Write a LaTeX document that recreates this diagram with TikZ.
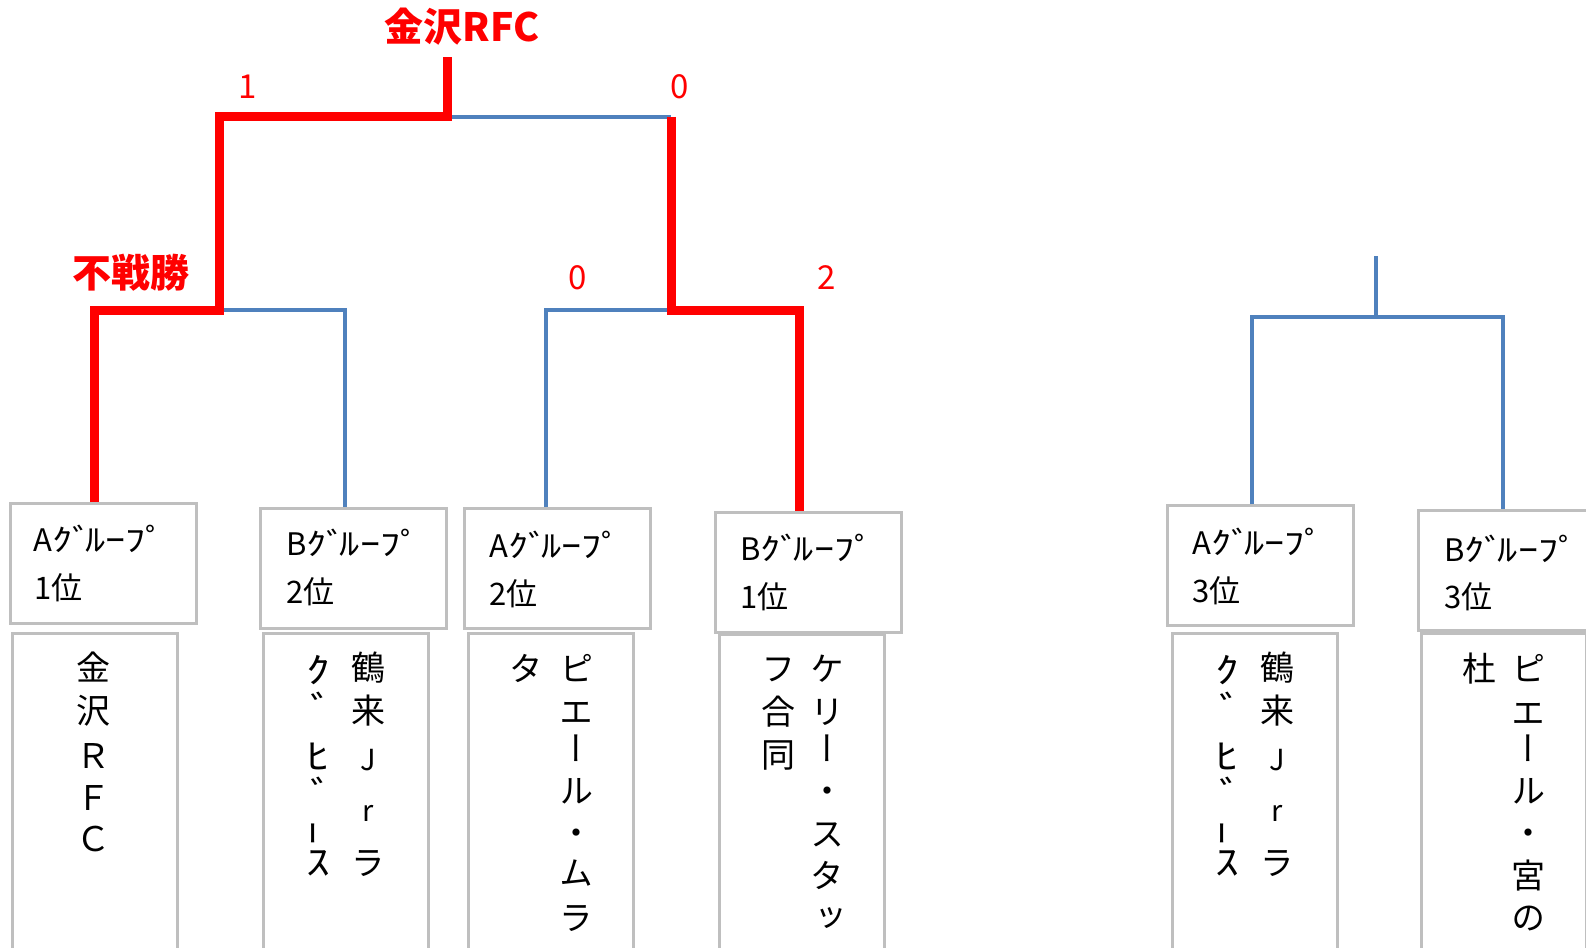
\documentclass[tikz,border=0pt]{standalone}
\usepackage{fontspec}
\usepackage{graphicx}
\setmainfont{Noto Sans CJK JP}
\newfontfamily\vfont[RawFeature=+vert]{Noto Sans CJK JP}
\definecolor{brRed}{HTML}{FF0000}
\definecolor{brBlue}{HTML}{4F81BD}
\definecolor{boxGray}{HTML}{BFBFBF}
\tikzset{
  win/.style={draw=brRed, line width=9pt, line join=miter},
  lose/.style={draw=brBlue, line width=4pt, line join=miter},
  gbox/.style={draw=boxGray, line width=2.5pt, anchor=north west, inner sep=0pt, minimum width=186pt, minimum height=120pt},
  tbox/.style={draw=boxGray, line width=2.5pt, anchor=north west, inner sep=0pt, minimum width=165pt, minimum height=360pt},
  gtext/.style={anchor=base west, inner sep=0pt, font=\fontsize{31}{31}\selectfont},
  vch/.style={inner sep=0pt, text height=30pt, text depth=4pt, font=\vfont\fontsize{34}{34}\selectfont},
  vsm/.style={vch, font=\vfont\fontsize{29}{29}\selectfont},
  score/.style={inner sep=0pt, text=brRed, font=\fontsize{33}{33}\selectfont},
  ttl/.style={inner sep=0pt, text=brRed, font=\bfseries\fontsize{39}{39}\selectfont}
}
\newcommand\vchar[4]{\node[vch] (#1) at (#2,#3) {#4};}
\newcommand\vsmall[4]{\node[vsm] (#1) at (#2,#3) {#4};}
\newcommand\vhalf[4]{\node[vch] (#1) at (#2,#3) {\scalebox{1.4}[1.05]{#4}};}
\newcommand\vrot[4]{\node[vch] (#1) at (#2,#3) {\rotatebox[origin=c]{90}{\scalebox{1.4}[1]{#4}}};}
\newcommand\grp[1]{#1\scalebox{1.3}[1]{ｸﾞ}\kern-7pt\scalebox{1.3}[1]{ﾙｰﾌﾟ}}
\begin{document}
\begin{tikzpicture}[x=1pt,y=-1pt]
\useasboundingbox (0,0) rectangle (1586,947);
\fill[white] (0,0) rectangle (1586,947);
\clip (0,0) rectangle (1586,947);

% group boxes
\node[gbox] (g1) at (9,502) {};
\node[gbox] (g2) at (259,507) {};
\node[gbox] (g3) at (463,507) {};
\node[gbox] (g4) at (714,511) {};
\node[gbox] (g5) at (1166,504) {};
\node[gbox] (g6) at (1417,509) {};

\node[gtext] (g1a) at (33,551) {\grp{A}};
\node[gtext] (g1b) at (34,599) {1位};
\node[gtext] (g2a) at (286,555) {\grp{B}};
\node[gtext] (g2b) at (286,603) {2位};
\node[gtext] (g3a) at (489,557) {\grp{A}};
\node[gtext] (g3b) at (489,605) {2位};
\node[gtext] (g4a) at (740,560) {\grp{B}};
\node[gtext] (g4b) at (740,608) {1位};
\node[gtext] (g5a) at (1192,554) {\grp{A}};
\node[gtext] (g5b) at (1192,602) {3位};
\node[gtext] (g6a) at (1444,561) {\grp{B}};
\node[gtext] (g6b) at (1444,608) {3位};

% team boxes
\node[tbox] (t1) at (11,632) {};
\node[tbox] (t2) at (262,632) {};
\node[tbox] (t3) at (467,632) {};
\node[tbox] (t4) at (718,633) {};
\node[tbox] (t5) at (1171,632) {};
\node[tbox] (t6) at (1420,632) {};

% team 1
\vchar{t1a}{93}{667}{金}
\vchar{t1b}{93}{710}{沢}
\vchar{t1c}{93}{755}{Ｒ}
\vchar{t1d}{93}{797}{Ｆ}
\vchar{t1e}{93}{838}{Ｃ}
% team 2
\vchar{t2a}{368}{667}{鶴}
\vchar{t2b}{368}{710}{来}
\vsmall{t2c}{368}{757}{J}
\vsmall{t2d}{368}{808}{r}
\vchar{t2e}{368}{862}{ラ}
\vhalf{t2f}{318}{670}{ｸ}
\vhalf{t2g}{322}{709}{ﾞ}
\vhalf{t2h}{318}{756}{ﾋ}
\vhalf{t2i}{322}{794}{ﾞ}
\vrot{t2j}{318}{828}{ｰ}
\vhalf{t2k}{318}{862}{ｽ}
% team 3
\vchar{t3a}{576}{668}{ピ}
\vchar{t3b}{576}{711}{エ}
\vchar{t3c}{576}{748}{ー}
\vchar{t3d}{576}{790}{ル}
\vchar{t3e}{576}{832}{・}
\vchar{t3f}{576}{872}{ム}
\vchar{t3g}{576}{917}{ラ}
\vchar{t3h}{526}{668}{タ}
% team 4
\vchar{t4a}{827}{668}{ケ}
\vchar{t4b}{827}{711}{リ}
\vchar{t4c}{827}{748}{ー}
\vchar{t4d}{827}{790}{・}
\vchar{t4e}{827}{833}{ス}
\vchar{t4f}{827}{875}{タ}
\vchar{t4g}{827}{917}{ッ}
\vchar{t4h}{778}{668}{フ}
\vchar{t4i}{778}{711}{合}
\vchar{t4j}{778}{754}{同}
% team 5
\vchar{t5a}{1277}{667}{鶴}
\vchar{t5b}{1277}{710}{来}
\vsmall{t5c}{1277}{757}{J}
\vsmall{t5d}{1277}{808}{r}
\vchar{t5e}{1277}{862}{ラ}
\vhalf{t5f}{1227}{670}{ｸ}
\vhalf{t5g}{1231}{709}{ﾞ}
\vhalf{t5h}{1227}{756}{ﾋ}
\vhalf{t5i}{1231}{794}{ﾞ}
\vrot{t5j}{1227}{828}{ｰ}
\vhalf{t5k}{1227}{862}{ｽ}
% team 6
\vchar{t6a}{1528}{668}{ピ}
\vchar{t6b}{1528}{712}{エ}
\vchar{t6c}{1528}{748}{ー}
\vchar{t6d}{1528}{790}{ル}
\vchar{t6e}{1528}{832}{・}
\vchar{t6f}{1528}{875}{宮}
\vchar{t6g}{1528}{917}{の}
\vchar{t6h}{1479}{668}{杜}

% bracket junctions
\coordinate (j1) at (219,310);
\coordinate (s1) at (219,117);
\coordinate (j2) at (671,310);
\coordinate (s2) at (671,117);
\coordinate (fin) at (447,117);
\coordinate (champ) at (447,57);
\coordinate (j3) at (1376,317);
\coordinate (top3) at (1376,256);

% losing paths (blue)
\draw[lose] (fin) -- (s2);
\draw[lose] (j1) -| ([xshift=86pt]g2.north west);
\draw[lose] ([xshift=83pt]g3.north west) |- (j2);
\draw[lose] ([xshift=86pt]g5.north west) |- (j3) -| ([xshift=86pt]g6.north west);
\draw[lose] (top3) -- (j3);
% winning paths (red)
\draw[win] ([xshift=85pt]g1.north west) |- (j1) -- (s1) -- (fin) -- (champ);
\draw[win] (s2) -- (j2) -| ([xshift=85pt]g4.north west);

% labels
\node[ttl] (champname) at (462,27) {金沢RFC};
\node[ttl] (bye) at (131,273) {不戦勝};
\node[score] (sc1) at (248,87) {1};
\node[score] (sc2) at (680,87) {0};
\node[score] (sc3) at (578,278) {0};
\node[score] (sc4) at (827,278) {2};
\end{tikzpicture}
\end{document}
